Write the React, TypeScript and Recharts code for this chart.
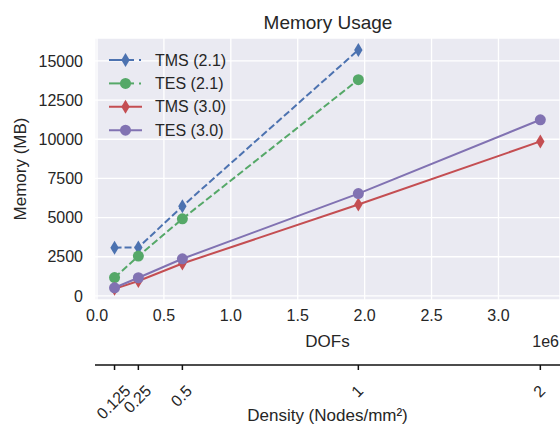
import React from 'react';
import { LineChart, Line, XAxis, YAxis, CartesianGrid } from 'recharts';

// DOFs in units of 1e6, one entry per mesh density
const dofs = [0.131, 0.309, 0.638, 1.953, 3.313];
const densityLabels = ['0.125', '0.25', '0.5', '1', '2'];

// memory in MB
const tms21 = [3080, 3090, 5720, 15700];
const tes21 = [1170, 2540, 4920, 13800];
const tms30 = [450, 950, 2070, 5830, 9860];
const tes30 = [520, 1160, 2370, 6530, 11240];

const dofTicks = [0, 0.5, 1, 1.5, 2, 2.5, 3];
const memTicks = [0, 2500, 5000, 7500, 10000, 12500, 15000];

const FONT = '"Liberation Sans", Arial, sans-serif';
const INK = '#262626';

const series = [
  { key: 'tms21', name: 'TMS (2.1)', color: '#4C72B0', dashed: true, shape: 'diamond' },
  { key: 'tes21', name: 'TES (2.1)', color: '#55A868', dashed: true, shape: 'circle' },
  { key: 'tms30', name: 'TMS (3.0)', color: '#C44E52', dashed: false, shape: 'diamond' },
  { key: 'tes30', name: 'TES (3.0)', color: '#8172B2', dashed: false, shape: 'circle' },
];

const rows = dofs.map((d, i) => ({
  dofs: d,
  tms21: tms21[i],
  tes21: tes21[i],
  tms30: tms30[i],
  tes30: tes30[i],
}));

const Marker = ({ x, y, shape, color }: any) =>
  shape === 'diamond' ? (
    <path d={`M${x},${y - 7}L${x + 4.2},${y}L${x},${y + 7}L${x - 4.2},${y}Z`} fill={color} />
  ) : (
    <circle cx={x} cy={y} r={5.5} fill={color} />
  );

const makeDot = (shape: string, color: string) => (p: any) => {
  if (p.cx == null || p.cy == null || p.value == null) return <g key={p.key} />;
  return (
    <g key={p.key}>
      <Marker x={p.cx} y={p.cy} shape={shape} color={color} />
    </g>
  );
};

// rotated density labels, top of the rotated box kept on one line
const DensityTick = (props: any) => {
  const { x, y, payload } = props;
  const idx = dofs.indexOf(payload?.value);
  const label = densityLabels[idx] ?? '';
  const w = [...label].reduce((s, c) => s + (c === '.' ? 4.45 : 8.9), 0);
  const cx = x - 1;
  const cy = 384 + (w + 11.5) / (2 * Math.SQRT2);
  return (
    <text
      x={cx}
      y={cy}
      transform={`rotate(-45 ${cx} ${cy})`}
      textAnchor="middle"
      dominantBaseline="central"
      fill={INK}
      fontSize={16}
      fontFamily={FONT}
    >
      {label}
    </text>
  );
};

const Legend = () => (
  <g>
    {series.map((s, i) => {
      const y = 60 + i * 23.4;
      return (
        <g key={s.key}>
          {s.dashed ? (
            <>
              <line x1={109} x2={134} y1={y} y2={y} stroke={s.color} strokeWidth={2} />
              <line x1={139} x2={141} y1={y} y2={y} stroke={s.color} strokeWidth={2} />
            </>
          ) : (
            <line x1={109} x2={142} y1={y} y2={y} stroke={s.color} strokeWidth={2} />
          )}
          <Marker x={125.5} y={y} shape={s.shape} color={s.color} />
          <text x={155} y={y} dominantBaseline="central" fill={INK} fontSize={16} fontFamily={FONT}>
            {s.name}
          </text>
        </g>
      );
    })}
  </g>
);

export default function App() {
  return (
    <div style={{ position: 'relative', width: 560, height: 426, background: '#fff' }}>
      <style>{'body{margin:0}'}</style>
      <LineChart width={560} height={426} data={rows} margin={{ top: 38, right: 0, bottom: 0, left: 0 }}>
        <CartesianGrid fill="#EAEAF2" stroke="#fff" strokeWidth={1.3} />
        <XAxis
          dataKey="dofs"
          type="number"
          domain={[-0.015, 3.46]}
          allowDataOverflow
          ticks={dofTicks}
          interval={0}
          tickFormatter={(v: number) => v.toFixed(1)}
          axisLine={false}
          tickLine={false}
          tickSize={0}
          tickMargin={10}
          height={65}
          tick={{ fill: INK, fontSize: 16, fontFamily: FONT }}
          label={(p: any) => {
            const vb = p.viewBox;
            return (
              <g>
                <text x={vb.x + vb.width / 2} y={vb.y + 41} textAnchor="middle" dominantBaseline="central" fill={INK} fontSize={17} fontFamily={FONT}>
                  DOFs
                </text>
                <text x={vb.x + vb.width - 1} y={vb.y + 41} textAnchor="end" dominantBaseline="central" fill={INK} fontSize={16} fontFamily={FONT}>
                  1e6
                </text>
              </g>
            );
          }}
        />
        <XAxis
          xAxisId="density"
          dataKey="dofs"
          type="number"
          domain={[-0.015, 3.46]}
          allowDataOverflow
          ticks={dofs}
          interval={0}
          axisLine={{ stroke: '#111', strokeWidth: 1.5 }}
          tickLine={{ stroke: '#111', strokeWidth: 1.5 }}
          tickSize={5}
          tickMargin={0}
          height={61}
          tick={<DensityTick />}
          label={(p: any) => {
            const vb = p.viewBox;
            return (
              <text x={vb.x + vb.width / 2} y={vb.y + 50} textAnchor="middle" dominantBaseline="central" fill={INK} fontSize={17} fontFamily={FONT}>
                Density (Nodes/mm²)
              </text>
            );
          }}
        />
        <YAxis
          type="number"
          domain={[-260, 16460]}
          allowDataOverflow
          ticks={memTicks}
          interval={0}
          axisLine={false}
          tickLine={false}
          tickSize={0}
          tickMargin={12}
          width={95}
          tick={{ fill: INK, fontSize: 16, fontFamily: FONT }}
          label={(p: any) => {
            const vb = p.viewBox;
            const cy = vb.y + vb.height / 2;
            return (
              <text x={20} y={cy} transform={`rotate(-90 20 ${cy})`} textAnchor="middle" dominantBaseline="central" fill={INK} fontSize={17} fontFamily={FONT}>
                Memory (MB)
              </text>
            );
          }}
        />
        {series.map((s) => (
          <Line
            key={s.key}
            dataKey={s.key}
            name={s.name}
            type="linear"
            stroke={s.color}
            strokeWidth={2}
            strokeDasharray={s.dashed ? '7 3' : undefined}
            dot={makeDot(s.shape, s.color)}
            activeDot={false}
            isAnimationActive={false}
          />
        ))}
      </LineChart>
      <svg width={560} height={426} style={{ position: 'absolute', left: 0, top: 0, pointerEvents: 'none' }}>
        <text x={328} y={22} textAnchor="middle" dominantBaseline="central" fill={INK} fontSize={19} fontFamily={FONT}>
          Memory Usage
        </text>
        <Legend />
      </svg>
    </div>
  );
}
